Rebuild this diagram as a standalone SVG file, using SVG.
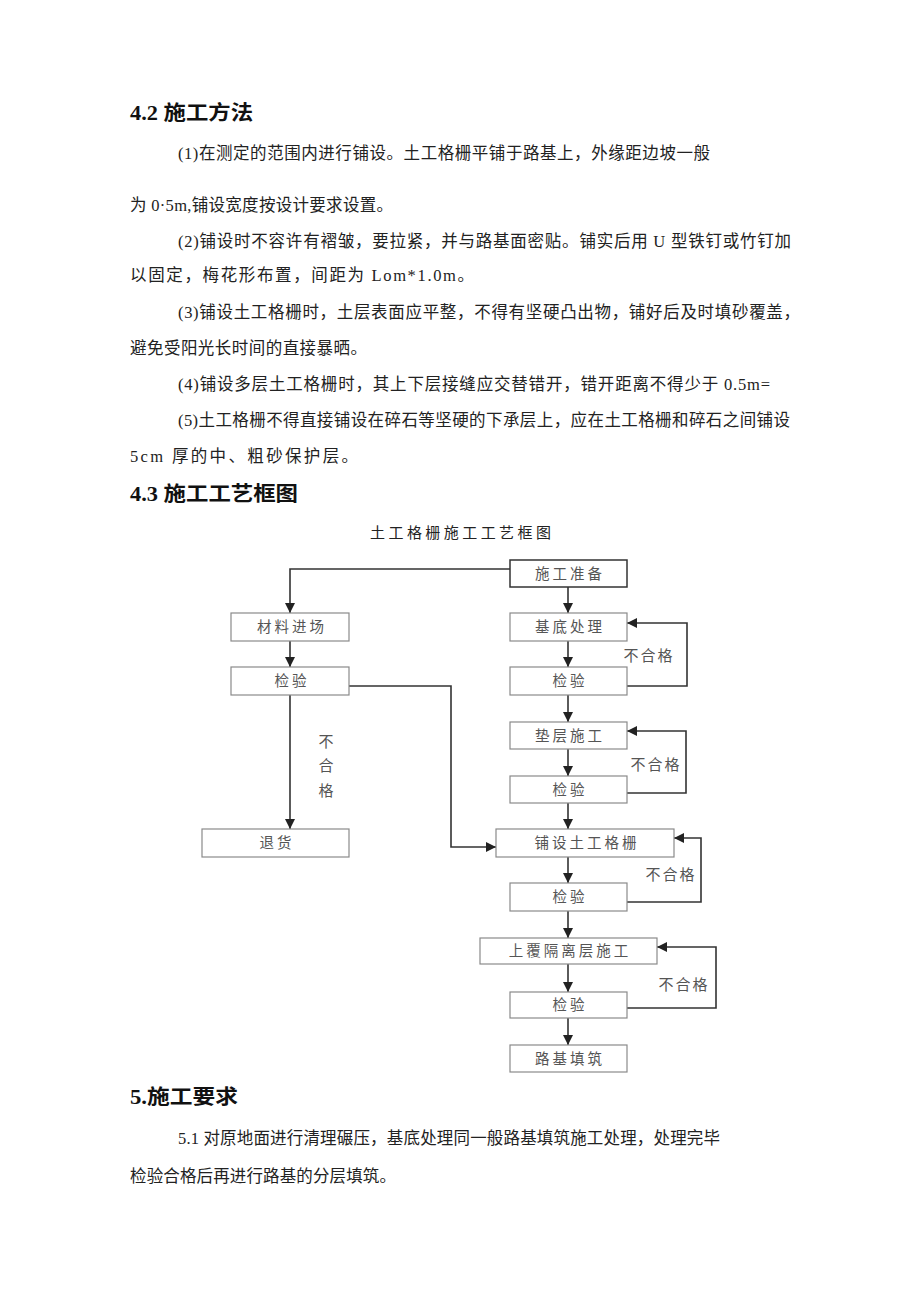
<svg xmlns="http://www.w3.org/2000/svg" width="920" height="1302" viewBox="0 0 920 1302">
<style>
.h{font-family:"Liberation Serif","Noto Sans CJK SC",serif;font-size:20px;font-weight:bold;fill:#111}
.p{font-family:"Liberation Serif","Noto Sans CJK SC",serif;font-size:16.5px;fill:#222}
.t{font-family:"Liberation Serif","Noto Sans CJK SC",serif;font-size:15px;fill:#222}
.box{fill:#fff;stroke:#8a8a8a;stroke-width:1.2}
.boxd{fill:#fff;stroke:#333;stroke-width:1.5}
.bl{font-family:"Noto Sans CJK SC",sans-serif;font-size:14.5px;fill:#555;text-anchor:middle;letter-spacing:3px}
.ng{font-family:"Noto Sans CJK SC",sans-serif;font-size:15px;fill:#555;text-anchor:middle;letter-spacing:2px}
.c{fill:none;stroke:#333;stroke-width:1.6}
</style>
<defs>
<marker id="a" markerUnits="userSpaceOnUse" markerWidth="12" markerHeight="12" refX="10" refY="5" orient="auto">
<path d="M0,0 L10,5 L0,10 Z" fill="#222"/>
</marker>
</defs>
<rect width="920" height="1302" fill="#fff"/>

<g id="text">
<text class="h" x="130" y="120" textLength="123" lengthAdjust="spacingAndGlyphs">4.2 施工方法</text>
<text class="p" x="178" y="159" textLength="532" lengthAdjust="spacing">(1)在测定的范围内进行铺设。土工格栅平铺于路基上，外缘距边坡一般</text>
<text class="p" x="130" y="211" textLength="263" lengthAdjust="spacing">为 0·5m,铺设宽度按设计要求设置。</text>
<text class="p" x="178" y="247" textLength="613" lengthAdjust="spacing">(2)铺设时不容许有褶皱，要拉紧，并与路基面密贴。铺实后用 U 型铁钉或竹钉加</text>
<text class="p" x="130" y="281" textLength="344" lengthAdjust="spacing">以固定，梅花形布置，间距为 Lom*1.0m。</text>
<text class="p" x="178" y="318" textLength="622" lengthAdjust="spacing">(3)铺设土工格栅时，土层表面应平整，不得有坚硬凸出物，铺好后及时填砂覆盖，</text>
<text class="p" x="130" y="354" textLength="237" lengthAdjust="spacing">避免受阳光长时间的直接暴晒。</text>
<text class="p" x="178" y="390" textLength="592" lengthAdjust="spacing">(4)铺设多层土工格栅时，其上下层接缝应交替错开，错开距离不得少于 0.5m=</text>
<text class="p" x="178" y="426" textLength="612" lengthAdjust="spacing">(5)土工格栅不得直接铺设在碎石等坚硬的下承层上，应在土工格栅和碎石之间铺设</text>
<text class="p" x="130" y="462" textLength="228" lengthAdjust="spacing">5cm 厚的中、粗砂保护层。</text>
<text class="h" x="130" y="501" textLength="168" lengthAdjust="spacingAndGlyphs">4.3 施工工艺框图</text>
<text class="t" x="370" y="538" textLength="181" lengthAdjust="spacing">土工格栅施工工艺框图</text>
<text class="h" x="130" y="1104" textLength="108" lengthAdjust="spacingAndGlyphs">5.施工要求</text>
<text class="p" x="178" y="1144" textLength="542" lengthAdjust="spacing">5.1 对原地面进行清理碾压，基底处理同一般路基填筑施工处理，处理完毕</text>
<text class="p" x="130" y="1182" textLength="266" lengthAdjust="spacing">检验合格后再进行路基的分层填筑。</text>
</g>

<g id="connectors">
<polyline class="c" points="510,569 290,569 290,613" marker-end="url(#a)"/>
<line class="c" x1="568" y1="587" x2="568" y2="613" marker-end="url(#a)"/>
<line class="c" x1="290" y1="641" x2="290" y2="667" marker-end="url(#a)"/>
<line class="c" x1="290" y1="695" x2="290" y2="829" marker-end="url(#a)"/>
<polyline class="c" points="349,686 451,686 451,847 496,847" marker-end="url(#a)"/>
<line class="c" x1="568" y1="641" x2="568" y2="667" marker-end="url(#a)"/>
<polyline class="c" points="627,686 687,686 687,623 627,623" marker-end="url(#a)"/>
<line class="c" x1="568" y1="695" x2="568" y2="722" marker-end="url(#a)"/>
<line class="c" x1="568" y1="749" x2="568" y2="776" marker-end="url(#a)"/>
<polyline class="c" points="627,793 686,793 686,731 627,731" marker-end="url(#a)"/>
<line class="c" x1="568" y1="803" x2="568" y2="829" marker-end="url(#a)"/>
<line class="c" x1="568" y1="857" x2="568" y2="883" marker-end="url(#a)"/>
<polyline class="c" points="627,902 701,902 701,838 674,838" marker-end="url(#a)"/>
<line class="c" x1="568" y1="911" x2="568" y2="938" marker-end="url(#a)"/>
<line class="c" x1="568" y1="964" x2="568" y2="992" marker-end="url(#a)"/>
<polyline class="c" points="627,1008 716,1008 716,947 657,947" marker-end="url(#a)"/>
<line class="c" x1="568" y1="1018" x2="568" y2="1045" marker-end="url(#a)"/>
<text class="ng" x="649" y="661">不合格</text>
<text class="ng" x="656" y="770">不合格</text>
<text class="ng" x="671" y="880">不合格</text>
<text class="ng" x="684" y="990">不合格</text>
<text class="ng" x="327" y="747">不</text>
<text class="ng" x="327" y="771">合</text>
<text class="ng" x="327" y="796">格</text>
</g>

<g id="n-prep"><rect class="boxd" x="510" y="560" width="117" height="27"/><text class="bl" x="570" y="579">施工准备</text></g>
<g id="n-material"><rect class="box" x="231" y="613" width="118" height="28"/><text class="bl" x="292" y="632">材料进场</text></g>
<g id="n-check0"><rect class="box" x="231" y="667" width="118" height="28"/><text class="bl" x="292" y="686">检验</text></g>
<g id="n-return"><rect class="box" x="202" y="829" width="147" height="28"/><text class="bl" x="277" y="848">退货</text></g>
<g id="n-base"><rect class="box" x="510" y="613" width="117" height="28"/><text class="bl" x="570" y="632">基底处理</text></g>
<g id="n-check1"><rect class="box" x="510" y="667" width="117" height="28"/><text class="bl" x="570" y="686">检验</text></g>
<g id="n-cushion"><rect class="box" x="510" y="722" width="117" height="27"/><text class="bl" x="570" y="741">垫层施工</text></g>
<g id="n-check2"><rect class="box" x="510" y="776" width="117" height="27"/><text class="bl" x="570" y="795">检验</text></g>
<g id="n-lay"><rect class="box" x="496" y="829" width="178" height="28"/><text class="bl" x="587" y="848">铺设土工格栅</text></g>
<g id="n-check3"><rect class="box" x="510" y="883" width="117" height="28"/><text class="bl" x="570" y="902">检验</text></g>
<g id="n-cover"><rect class="box" x="480" y="938" width="177" height="26"/><text class="bl" x="570" y="956">上覆隔离层施工</text></g>
<g id="n-check4"><rect class="box" x="510" y="992" width="117" height="26"/><text class="bl" x="570" y="1010">检验</text></g>
<g id="n-fill"><rect class="box" x="510" y="1045" width="117" height="27"/><text class="bl" x="570" y="1064">路基填筑</text></g>
</svg>
